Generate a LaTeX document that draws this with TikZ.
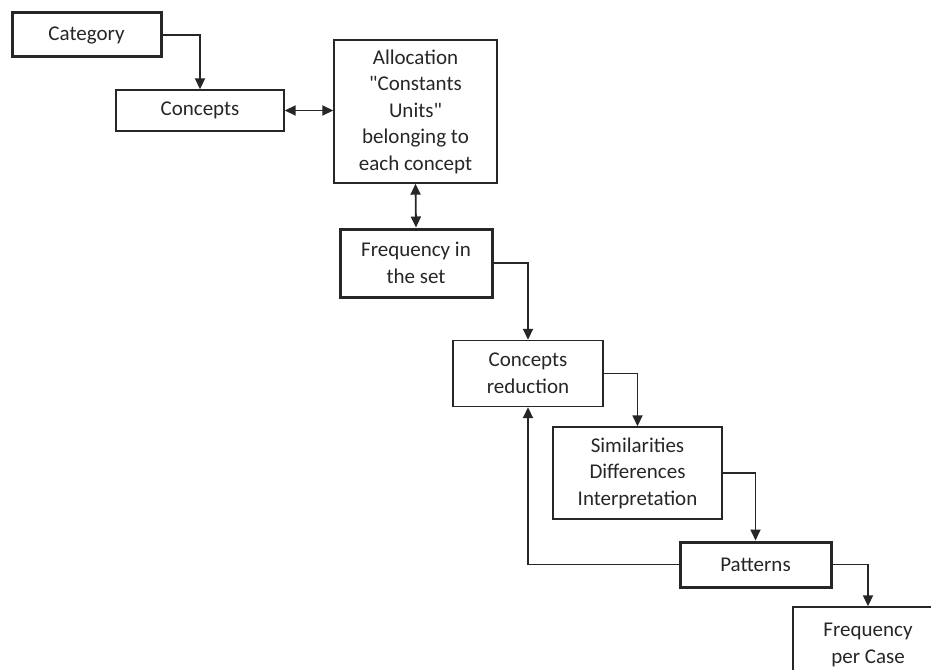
\documentclass[tikz,border=0pt]{standalone}
\usepackage{fontspec}
\setmainfont{Carlito}[Ligatures=TeXOff]
\usetikzlibrary{arrows.meta}
\begin{document}
\begin{tikzpicture}[x=1pt,y=-1pt,
  box/.style={draw=black!85, line width=1.4pt, align=center, inner sep=0pt,
    font=\fontsize{21}{26.5}\selectfont, text=black!85},
  boldbox/.style={box, line width=3pt},
  conn/.style={draw=black!85, line width=1.8pt, -{Triangle[length=11pt,width=10pt]}},
  dconn/.style={conn, {Triangle[length=11pt,width=10pt]}-{Triangle[length=11pt,width=10pt]}}]
\useasboundingbox (0,0) rectangle (931,669);
\clip (0,0) rectangle (931,669);
\node[boldbox, minimum width=149pt, minimum height=44pt] (cat) at (86.5,35) {Category};
\node[box, minimum width=168pt, minimum height=41pt] (con) at (200,110.5) {Concepts};
\node[box, minimum width=163pt, minimum height=143pt] (alloc) at (415.5,111.5) {Allocation\\"Constants\\Units"\\belonging to\\each concept};
\node[boldbox, minimum width=152pt, minimum height=68pt] (freq) at (416,263) {Frequency in\\the set};
\node[box, minimum width=150pt, minimum height=66pt] (red) at (528,373.5) {Concepts\\reduction};
\node[box, minimum width=169pt, minimum height=92pt] (sim) at (637.5,473) {Similarities\\Differences\\Interpretation};
\node[boldbox, minimum width=151pt, minimum height=45pt] (pat) at (755.5,564.5) {Patterns};
\node[box, minimum width=150pt, minimum height=76pt] (fpc) at (868,645) {Frequency\\per Case};
\draw[conn] (cat.east) -| (con.north);
\draw[dconn] (con.east) -- (alloc.west |- con.east);
\draw[dconn] (alloc.south) -- (freq.north);
\draw[conn] (freq.east) -| (red.north);
\draw[conn] (red.east) -| (sim.north);
\draw[conn] (sim.east) -| (pat.north);
\draw[conn] (pat.west) -| (red.south);
\draw[conn] (pat.east) -| (fpc.north);
\end{tikzpicture}
\end{document}
